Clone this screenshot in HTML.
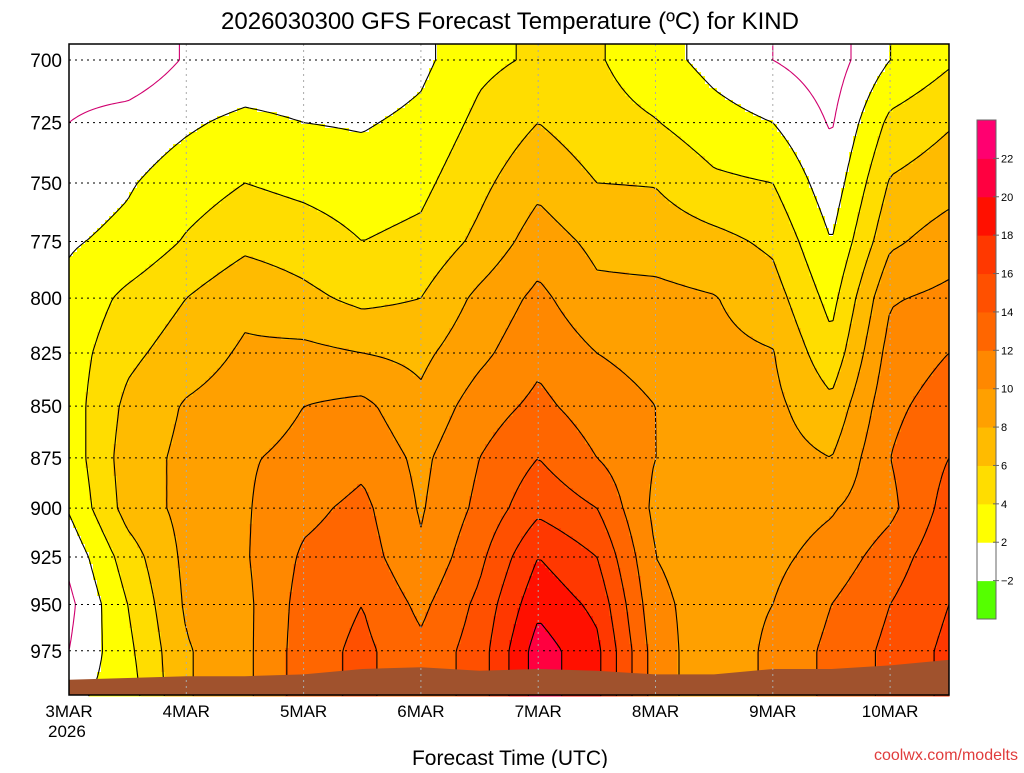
<!DOCTYPE html>
<html><head><meta charset="utf-8"><style>
body{margin:0;background:#fff;font-family:"Liberation Sans",sans-serif}
svg text{font-family:"Liberation Sans",sans-serif}
</style></head><body>
<svg id="c" width="1024" height="768" xmlns="http://www.w3.org/2000/svg">
<text x="510" y="29" text-anchor="middle" font-size="24">2026030300  GFS Forecast Temperature (ºC) for KIND</text>
<g id="plot"></g>
<g id="cb"></g>
<text x="510" y="765" text-anchor="middle" font-size="21">Forecast Time (UTC)</text>
<text x="1018" y="760" text-anchor="end" font-size="16" fill="#e03c3c">coolwx.com/modelts</text>
</svg>
<script>
// data: 12-hourly columns starting 3MAR 00Z
const hours=[0,12,24,36,48,60,72,84,96,108,120,132,144,156,168,180];
const levels=[700,725,750,775,800,825,850,875,900,925,950,975,1000];
const temps=[
[-1,0,1,1.8,2.5,3,3,2.8,2.2,0.5,-0.5,0,1.5],
[-1.5,0.8,1.8,2.5,4.5,5.5,6.5,7,6.8,5,4,3.5,3],
[0.2,1.7,3,4.2,6,7,8.2,8.5,8.6,8.5,8.3,7.8,7.8],
[0.5,2.5,4,5.5,7.5,8.3,9,9.8,9.8,9.8,9.5,9.5,9.5],
[0.5,2,3.5,5,6.5,8.5,10,10.5,11.5,12.3,12.8,13,13],
[0.5,1.8,3,4,5.5,8,10.5,11.5,12.5,13,14,14.5,14.5],
[1.5,2.5,3.5,4.5,6,7.5,8.5,9.5,9.8,10.3,11.5,12.5,12.5],
[3.5,4.5,5.5,6.5,8.5,9.5,11,12,12.5,13.5,14.5,15,15],
[4.3,6,7.5,9,10.5,11.5,12.5,14,15.5,18,19.5,21,21],
[4.2,4.8,6,7.5,8.5,10,11,12,14,16,17.5,18.5,18.5],
[2.8,4.1,5.9,7.2,8.5,9.3,10,10,9.5,10,10.5,11,11],
[1.3,2.8,4.4,6.6,8.1,8.5,8.8,9,9,9,9,8.5,8.5],
[0,2,4,5.6,6.9,8.1,8.5,8.8,9,9.5,10,10.5,10.5],
[-1,-0.2,0.8,2,3.3,4.6,6.5,8,9.8,10.8,12,12.5,12.5],
[2,4.5,6.2,7.6,9.8,10.8,11.5,12,11.5,13,14,14.5,14.5],
[3.7,5.8,7.2,9,10.5,12,13,14,14.8,15.5,16,16.5,16.5]];
const terrainP=[991,990,989,989,988,985,984,986,985,986,988,988,985,985,983,980];
const yTicks=[700,725,750,775,800,825,850,875,900,925,950,975];
const dayLabels=["3MAR","4MAR","5MAR","6MAR","7MAR","8MAR","9MAR","10MAR"];
const cbLevels=[-2,2,4,6,8,10,12,14,16,18,20,22];
const cbColors=["#55ff00","#ffffff","#ffff00","#ffdd00","#ffbb00","#ffa000","#ff8800","#ff6600","#ff5000","#ff3800","#ff1000","#ff0040","#ff0070"];

const X0=69,X1=949,Y0=44,Y1=695;
const K=1783;
const xs=h=>X0+h*(117.3/24);
const ys=p=>60+K*Math.log(p/700);
const pAt=y=>700*Math.exp((y-60)/K);
const hAt=x=>(x-X0)*24/117.3;
const NS="http://www.w3.org/2000/svg";
function mk(t,a,par){const e=document.createElementNS(NS,t);for(const k in a)e.setAttribute(k,a[k]);par.appendChild(e);return e;}
function val(h,p){
 let i=Math.min(Math.max(Math.floor(h/12),0),hours.length-2);
 let fx=Math.min(Math.max((h-hours[i])/12,0),1);
 let j=Math.min(Math.max(Math.floor((p-700)/25),0),levels.length-2);
 let fy=Math.min(Math.max((p-levels[j])/25,0),1);
 const a=temps[i][j],b=temps[i+1][j],c=temps[i][j+1],d=temps[i+1][j+1];
 return a*(1-fx)*(1-fy)+b*fx*(1-fy)+c*(1-fx)*fy+d*fx*fy;}
function color(t){let k=0;while(k<cbLevels.length&&t>=cbLevels[k])k++;return cbColors[k];}
const plot=document.getElementById('plot');
const fill=mk('g',{},plot);


const S=4;
const nx=Math.ceil((X1-X0)/S),ny=Math.ceil((Y1-Y0)/S);
const grid=[];
for(let j=0;j<=ny;j++){grid.push([]);for(let i=0;i<=nx;i++){grid[j].push(val(hAt(X0+i*S),pAt(Y0+j*S)));}}
for(let j=0;j<ny;j++){let i=0;while(i<nx){const v=(grid[j][i]+grid[j+1][i+1])/2;const c=color(v);let k=i+1;while(k<nx&&color((grid[j][k]+grid[j+1][k+1])/2)===c)k++;
 const r=mk('rect',{x:X0+i*S,y:Y0+j*S,width:(k-i)*S+0.5,height:S+0.5,fill:c},fill);
 
 
 i=k;}}
// contours
const cl=mk('g',{fill:'none','stroke-width':1.1},plot);


for(let L=0;L<=22;L+=2){let d="";
 for(let j=0;j<ny;j++)for(let i=0;i<nx;i++){
  const v=[grid[j][i],grid[j][i+1],grid[j+1][i+1],grid[j+1][i]];
  const P=[[X0+i*S,Y0+j*S],[X0+(i+1)*S,Y0+j*S],[X0+(i+1)*S,Y0+(j+1)*S],[X0+i*S,Y0+(j+1)*S]];
  const pts=[];
  for(let e=0;e<4;e++){const a=v[e],b=v[(e+1)%4];if((a<L)!==(b<L)){const f=(L-a)/(b-a);const p=P[e],q=P[(e+1)%4];pts.push([p[0]+(q[0]-p[0])*f,p[1]+(q[1]-p[1])*f]);}}
  for(let m=0;m+1<pts.length;m+=2)d+=`M${pts[m][0].toFixed(1)},${pts[m][1].toFixed(1)}L${pts[m+1][0].toFixed(1)},${pts[m+1][1].toFixed(1)}`;}
 const pa=mk('path',{d:d,stroke:L===0?'#d0006f':'#000'},cl);
 
 }
// terrain
let td=`M${X0},${Y1}`;
hours.forEach((h,i)=>{td+=`L${xs(h).toFixed(1)},${ys(terrainP[i]).toFixed(1)}`;});
td+=`L${X1},${Y1}Z`;
const ter=mk('path',{d:td,fill:'#a0522d'},plot);


// grid
const gl=mk('g',{stroke:'#000','stroke-dasharray':'2,4','stroke-width':1},plot);


yTicks.forEach(p=>{mk('line',{x1:X0,x2:X1,y1:ys(p),y2:ys(p)},gl);
 const t=mk('text',{x:62,y:ys(p)+7,'text-anchor':'end','font-size':19},plot);t.textContent=p;
 
 });
dayLabels.forEach((lab,i)=>{const x=xs(i*24);
 if(i>0){mk('line',{x1:x,x2:x,y1:Y0,y2:Y1,stroke:'#aaa','stroke-dasharray':'2,4'},plot);}
 const t=mk('text',{x:x,y:717,'text-anchor':'middle','font-size':17},plot);t.textContent=lab;
 
 });
const yr=mk('text',{x:48,y:737,'font-size':17},plot);yr.textContent="2026";


const fr=mk('rect',{x:X0,y:Y0,width:X1-X0,height:Y1-Y0,fill:'none',stroke:'#000','stroke-width':1.5},plot);


// colorbar
const cb=document.getElementById('cb');const bh=499/13;
cbColors.forEach((c,k)=>{const r=mk('rect',{x:977,y:619-(k+1)*bh,width:19,height:bh+0.5,fill:c},cb);
 
 });
mk('rect',{x:977,y:120,width:19,height:499,fill:'none',stroke:'#666'},cb);
cbLevels.forEach((l,k)=>{const y=619-(k+1)*bh;mk('line',{x1:993,x2:999,y1:y,y2:y,stroke:'#666'},cb);
 const t=mk('text',{x:1001,y:y+4,'font-size':11},cb);t.textContent=l<0?'\u2212'+(-l):l;
 
 });
</script>
</body></html>
